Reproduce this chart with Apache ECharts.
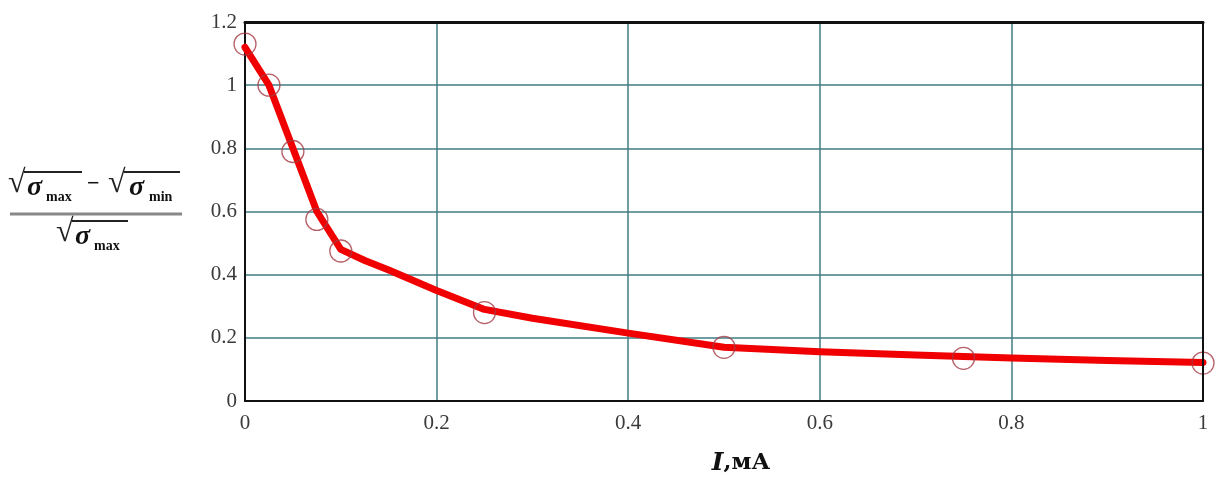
<!DOCTYPE html>
<html>
<head>
<meta charset="utf-8">
<script src="https://cdn.jsdelivr.net/npm/echarts@6/dist/echarts.min.js"></script>
<style>
  html, body { margin: 0; padding: 0; background: #fff; }
  #chart { width: 1217px; height: 478px; }
</style>
</head>
<body>
<div id="chart"></div>
<script>
// Measured points (current I, mA; relative stress difference)
var measuredI = [0, 0.025, 0.05, 0.075, 0.1, 0.25, 0.5, 0.75, 1.0];
var measuredRatio = [1.13, 1.0, 0.79, 0.575, 0.475, 0.28, 0.17, 0.135, 0.12];

// Fitted curve through the measurements
var curveI = [0, 0.025, 0.05, 0.075, 0.1, 0.125, 0.15, 0.2, 0.25, 0.3, 0.4, 0.5, 0.6, 0.7, 0.8, 0.9, 1.0];
var curveRatio = [1.12, 1.0, 0.8, 0.6, 0.48, 0.445, 0.415, 0.35, 0.29, 0.262, 0.215, 0.17, 0.156, 0.146, 0.136, 0.128, 0.122];

// Axis ticks
var xTicks = [0, 0.2, 0.4, 0.6, 0.8, 1];
var yTicks = [0, 0.2, 0.4, 0.6, 0.8, 1, 1.2];

var serif = '"Liberation Serif", "DejaVu Serif", serif';
var wideSerif = '"DejaVu Serif", "Liberation Serif", serif';

function zip(a, b) {
  return a.map(function (v, i) { return [v, b[i]]; });
}

function fmt(v) {
  return String(Math.round(v * 10) / 10);
}

var chart = echarts.init(document.getElementById('chart'));

var labelStyle = { fontFamily: serif, fontSize: 21, color: '#3a3a3a' };
var gridLine = { show: true, lineStyle: { color: '#3f7c82', width: 1.5 } };

chart.setOption({
  backgroundColor: '#ffffff',
  animation: false,
  grid: { left: 245, right: 14, top: 22, bottom: 77, outerBoundsMode: 'none', containLabel: false },
  xAxis: [{
    type: 'value',
    min: xTicks[0],
    max: xTicks[xTicks.length - 1],
    interval: 0.2,
    axisLine: { show: true, onZero: false, lineStyle: { color: '#111', width: 2 } },
    axisTick: { show: false },
    splitLine: gridLine,
    axisLabel: Object.assign({ margin: 12, formatter: fmt }, labelStyle),
    name: '{i|I}{b|,мА}',
    nameLocation: 'middle',
    nameGap: 50,
    nameTextStyle: {
      padding: [0, 0, 0, 34],
      rich: {
        i: { fontFamily: wideSerif, fontSize: 25, fontWeight: 'bold', fontStyle: 'italic', color: '#111' },
        b: { fontFamily: wideSerif, fontSize: 23, fontWeight: 'bold', color: '#111' }
      }
    }
  }, {
    type: 'value',
    position: 'top',
    min: 0, max: 1,
    axisLine: { show: true, onZero: false, lineStyle: { color: '#111', width: 3 } },
    axisTick: { show: false },
    axisLabel: { show: false },
    splitLine: { show: false },
    z: 5
  }],
  yAxis: [{
    type: 'value',
    min: yTicks[0],
    max: yTicks[yTicks.length - 1],
    interval: 0.2,
    axisLine: { show: true, onZero: false, lineStyle: { color: '#111', width: 2 } },
    axisTick: { show: false },
    splitLine: gridLine,
    axisLabel: Object.assign({ margin: 8, formatter: fmt }, labelStyle)
  }, {
    type: 'value',
    position: 'right',
    min: 0, max: 1.2,
    axisLine: { show: true, onZero: false, lineStyle: { color: '#111', width: 2 } },
    axisTick: { show: false },
    axisLabel: { show: false },
    splitLine: { show: false },
    z: 5
  }],
  series: [{
    type: 'line',
    data: zip(curveI, curveRatio),
    smooth: false,
    showSymbol: false,
    lineStyle: { color: '#f00000', width: 7, join: 'round', cap: 'round' },
    z: 3
  }, {
    type: 'scatter',
    data: zip(measuredI, measuredRatio),
    symbol: 'circle',
    symbolSize: 22,
    itemStyle: { color: 'rgba(0,0,0,0)', borderColor: '#a53a45', borderWidth: 1.3 },
    z: 4
  }],
  graphic: [
    // y-axis title: (sqrt(sigma_max) - sqrt(sigma_min)) / sqrt(sigma_max)
    { type: 'text', left: 8, top: 168, style: { text: '√', font: '32px ' + serif, fill: '#222' } },
    { type: 'line', shape: { x1: 24, y1: 172, x2: 82, y2: 172 }, style: { stroke: '#222', lineWidth: 2 } },
    { type: 'text', left: 27, top: 174, style: { text: 'σ', font: 'italic bold 28px ' + serif, fill: '#111' } },
    { type: 'text', left: 46, top: 190, style: { text: 'max', font: 'bold 14px ' + serif, fill: '#111' } },
    { type: 'text', left: 87, top: 173, style: { text: '−', font: 'bold 22px ' + serif, fill: '#111' } },
    { type: 'text', left: 108, top: 168, style: { text: '√', font: '32px ' + serif, fill: '#222' } },
    { type: 'line', shape: { x1: 124, y1: 172, x2: 180, y2: 172 }, style: { stroke: '#222', lineWidth: 2 } },
    { type: 'text', left: 129, top: 174, style: { text: 'σ', font: 'italic bold 28px ' + serif, fill: '#111' } },
    { type: 'text', left: 149, top: 190, style: { text: 'min', font: 'bold 14px ' + serif, fill: '#111' } },
    { type: 'line', shape: { x1: 10, y1: 214, x2: 182, y2: 214 }, style: { stroke: '#888', lineWidth: 3 } },
    { type: 'text', left: 56, top: 217, style: { text: '√', font: '32px ' + serif, fill: '#222' } },
    { type: 'line', shape: { x1: 72, y1: 221, x2: 128, y2: 221 }, style: { stroke: '#222', lineWidth: 2 } },
    { type: 'text', left: 75, top: 223, style: { text: 'σ', font: 'italic bold 28px ' + serif, fill: '#111' } },
    { type: 'text', left: 94, top: 239, style: { text: 'max', font: 'bold 14px ' + serif, fill: '#111' } }
  ]
});
</script>
</body>
</html>
